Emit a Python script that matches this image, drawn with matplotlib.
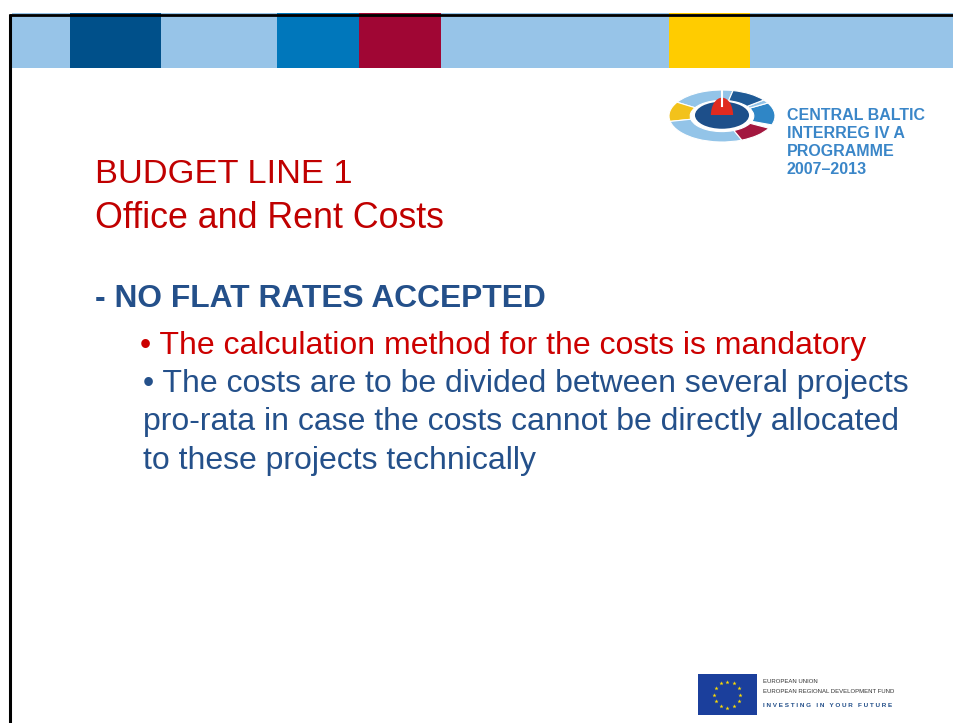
import numpy as np
import matplotlib.pyplot as plt
from matplotlib.patches import Rectangle, Wedge, Ellipse

plt.rcParams['font.family'] = ['Liberation Sans', 'DejaVu Sans']

W, H = 954, 723

# top colour strip
strip_edges = [12, 70, 161, 277, 359, 441, 669, 750, 954]
strip_colors = ['#97c4e8', '#00508a', '#97c4e8', '#0077bb', '#a00634',
                '#97c4e8', '#ffcc00', '#97c4e8']

# slide text
title_lines = ['BUDGET LINE 1', 'Office and Rent Costs']
heading = '- NO FLAT RATES ACCEPTED'
bullet_lines = ['\u2022 The calculation method for the costs is mandatory',
                '\u2022 The costs are to be divided between several projects',
                'pro-rata in case the costs cannot be directly allocated',
                'to these projects technically']
bullet_colors = ['#cc0000', '#24508a', '#24508a', '#24508a']
logo_lines = ['CENTRAL BALTIC', 'INTERREG IV A', 'PROGRAMME', '2007\u20132013']
eu_lines = ['EUROPEAN UNION', 'EUROPEAN REGIONAL DEVELOPMENT FUND',
            'I N V E S T I N G   I N   Y O U R   F U T U R E']

# ring logo segments (start angle, end angle, colour)
ring_start = [78, 148, 192, -68, -20, 30, 38]
ring_end = [148, 192, 292, -28, 30, 38, 78]
ring_colors = ['#93c4e8', '#f2c21b', '#93c4e8', '#a3173f', '#2f86c6',
               '#93c4e8', '#1e5a96']

fig = plt.figure(figsize=(W / 100, H / 100), dpi=100)
ax = fig.add_axes([0, 0, 1, 1])
ax.set_xlim(0, W)
ax.set_ylim(H, 0)
ax.axis('off')

for i, c in enumerate(strip_colors):
    ax.add_patch(Rectangle((strip_edges[i], 13), strip_edges[i + 1] - strip_edges[i], 55,
                           color=c, lw=0))

# black frame
ax.plot([9, W], [15, 15], color='black', lw=2, solid_capstyle='butt')
ax.plot([10.5, 10.5], [14, H], color='black', lw=2.2, solid_capstyle='butt')

fig.canvas.draw()
r = fig.canvas.get_renderer()


def fit(texts, width):
    bb = texts[0].get_window_extent(renderer=r)
    k = width / bb.width
    for t in texts:
        t.set_fontsize(t.get_fontsize() * k)


# titles
t1 = ax.text(95, 183, title_lines[0], fontsize=24, color='#c00000', va='baseline')
t2 = ax.text(95, 228, title_lines[1], fontsize=24, color='#c00000', va='baseline')
fit([t1], 257)
fit([t2], 350)

t3 = ax.text(95, 307, heading, fontsize=22, color='#24508a', fontweight='bold',
             va='baseline')
fit([t3], 451)

bullet_x = [140, 143, 143, 143]
bullet_y = [354, 392, 430, 469]
bts = []
for s, c, x, y in zip(bullet_lines, bullet_colors, bullet_x, bullet_y):
    bts.append(ax.text(x, y, s, fontsize=20, color=c, va='baseline'))
fit([bts[1]] + [b for b in bts if b is not bts[1]], 765)

# ring logo
lax = fig.add_axes([669 / W, 1 - 142 / H, 106 / W, 52 / H])
lax.set_xlim(-1, 1)
lax.set_ylim(-1, 1)
lax.axis('off')
for a0, a1, c in zip(ring_start, ring_end, ring_colors):
    lax.add_patch(Wedge((0, 0), 1, a0, a1, width=0.4, facecolor=c,
                        edgecolor='white', lw=0.8))
lax.add_patch(Ellipse((0, 0.03), 1.02, 1.04, color='#1d4f8a', lw=0))
dome = Ellipse((0, 0.03), 0.42, 1.35, color='#e02a1f', lw=0)
lax.add_patch(dome)
clip = Rectangle((-1, 0.03), 2, 1.2, transform=lax.transData)
dome.set_clip_path(clip)
lax.plot([0, 0], [0.4, 0.98], color='white', lw=1.5)

ltx = []
for i, s in enumerate(logo_lines):
    ltx.append(ax.text(787, 120 + i * 18, s, fontsize=11, color='#3a86c8',
                       fontweight='bold', va='baseline'))
fit(ltx, 138)

# EU flag and text
ax.add_patch(Rectangle((698, 674), 59, 41, color='#1b3f9c', lw=0))
ang = np.linspace(0, 2 * np.pi, 13)[:-1]
ax.scatter(727.5 + 13 * np.cos(ang), 694.5 + 13 * np.sin(ang), marker='*', s=10,
           color='#ffdd00', lw=0)
e1 = ax.text(763, 683, eu_lines[0], fontsize=4, color='#333333', va='baseline')
e2 = ax.text(763, 693, eu_lines[1], fontsize=4, color='#333333', va='baseline')
fit([e2, e1], 130)
e3 = ax.text(763, 707, eu_lines[2], fontsize=4, color='#24508a', fontweight='bold',
             va='baseline')
fit([e3], 130)

fig.savefig('out.png', dpi=100, facecolor='white')
